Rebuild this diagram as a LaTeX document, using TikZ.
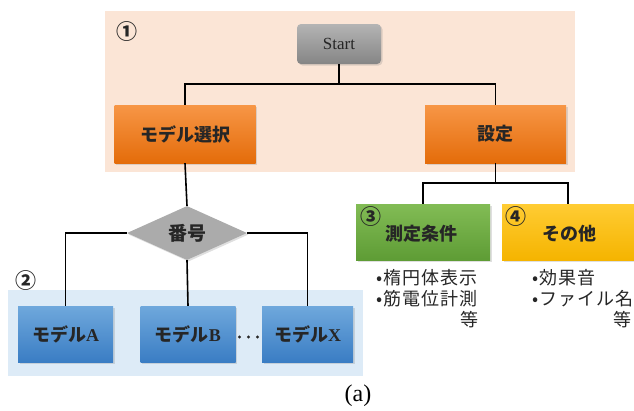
\documentclass[tikz,border=0pt]{standalone}
\usepackage{fontspec}
\setmainfont{Liberation Serif}
\newfontfamily\jp{Noto Sans CJK JP}
\newfontfamily\jpnote{Noto Sans CJK JP}[LetterSpace=6]
\usetikzlibrary{shapes.geometric,shadows}

\definecolor{pinkbg}{HTML}{FBE5D6}
\definecolor{bluebg}{HTML}{DDEBF7}
\definecolor{greyT}{HTML}{B4B4B4}
\definecolor{greyB}{HTML}{858585}
\definecolor{orangeT}{HTML}{F79646}
\definecolor{orangeB}{HTML}{E46C0A}
\definecolor{blueT}{HTML}{6FA8DC}
\definecolor{blueB}{HTML}{3A7DC4}
\definecolor{greenT}{HTML}{82BC55}
\definecolor{greenB}{HTML}{5E9C35}
\definecolor{yellowT}{HTML}{FFCC33}
\definecolor{yellowB}{HTML}{F5B400}
\definecolor{txt}{HTML}{262626}

\begin{document}
\begin{tikzpicture}[x=1pt,y=-1pt,
  conn/.style={draw=black, line width=1.6pt},
  shad/.style={drop shadow={opacity=0.25, shadow xshift=1.5pt, shadow yshift=-1.5pt}},
  lbl/.style={text=txt, font=\jp\bfseries\fontsize{18}{21}\selectfont},
  boxbase/.style={shad, draw=none, inner sep=0pt, lbl},
  orangebox/.style={boxbase, top color=orangeT, bottom color=orangeB,
    minimum width=141pt, minimum height=58pt},
  bluebox/.style={boxbase, top color=blueT, bottom color=blueB,
    minimum width=95pt, minimum height=56pt},
  greenbox/.style={boxbase, top color=greenT, bottom color=greenB,
    minimum width=134pt, minimum height=56pt},
  yellowbox/.style={boxbase, top color=yellowT, bottom color=yellowB,
    minimum width=132pt, minimum height=56pt},
  circnum/.style={inner sep=0pt, text=txt, font=\jp\bfseries\fontsize{21}{24}\selectfont},
  note/.style={inner sep=0pt, text=txt, font=\jpnote\fontsize{18}{21}\selectfont}
]
\useasboundingbox (0,0) rectangle (634,410);

% backgrounds
\fill[pinkbg] (105,11) rectangle (575,172);
\fill[bluebg] (8,290) rectangle (363,376);

\node[circnum] (n1) at (127,32) {①};
\node[circnum] (n2) at (26,281) {②};

% start
\node[shad, rounded corners=4pt, top color=greyT, bottom color=greyB,
      minimum width=84pt, minimum height=40pt, inner sep=0pt, text=txt,
      font=\fontsize{17}{20}\selectfont] (start) at (339,44) {Start};

\node[orangebox] (sel) at (185,134) {モデル選択};
\node[orangebox] (set) at (495.5,134) {設定};

\coordinate (j1) at (339,84);
\draw[conn] (start.south) -- (j1);
\draw[conn] (j1) -| (sel.north);
\draw[conn] (j1) -| (set.north);

% diamond
\node[shad, diamond, aspect=2.2, fill=greyT!80!greyB, minimum width=120pt,
      minimum height=54pt, inner sep=0pt, lbl,
      font=\jp\bfseries\fontsize{19}{22}\selectfont] (num) at (187,233) {番号};
\draw[conn] (sel.south) -- (num.north);

\node[bluebox] (ma) at (65.5,334) {モデル{\rmfamily A}};
\node[bluebox] (mb) at (188,334) {モデル{\rmfamily B}};
\node[bluebox, minimum width=91pt] (mx) at (307.5,334) {モデル{\rmfamily X}};
\foreach \dx in {239.5,248.5,257.5}
  \fill[txt] (\dx,337) circle (1.6pt);

\draw[conn] (num.west) -| (ma.north);
\draw[conn] (num.south) -- (mb.north);
\draw[conn] (num.east) -| (mx.north);

% right branch
\node[greenbox] (meas) at (423,232) {};
\node[yellowbox] (other) at (568,232) {};
\node[circnum] (n3) at (371,217) {③};
\node[inner sep=0pt, lbl] (measl) at (421,234) {測定条件};
\node[circnum] (n4) at (516,217) {④};
\node[inner sep=0pt, lbl] (otherl) at (569,234) {その他};

\coordinate (j2) at (495.5,183);
\draw[conn] (set.south) -- (j2);
\draw[conn] (j2) -| (meas.north);
\draw[conn] (j2) -| (other.north);

\node[note, anchor=west] (a1) at (376,278) {•楕円体表示};
\node[note, anchor=west] (a2) at (376,299) {•筋電位計測};
\node[note, anchor=east] (a3) at (479,320) {等};
\node[note, anchor=west] (b1) at (532,278) {•効果音};
\node[note, anchor=west] (b2) at (532,299) {•ファイル名};
\node[note, anchor=east] (b3) at (632,320) {等};

\node[inner sep=0pt, font=\fontsize{24}{28}\selectfont] (cap) at (358,396) {(a)};
\end{tikzpicture}
\end{document}
